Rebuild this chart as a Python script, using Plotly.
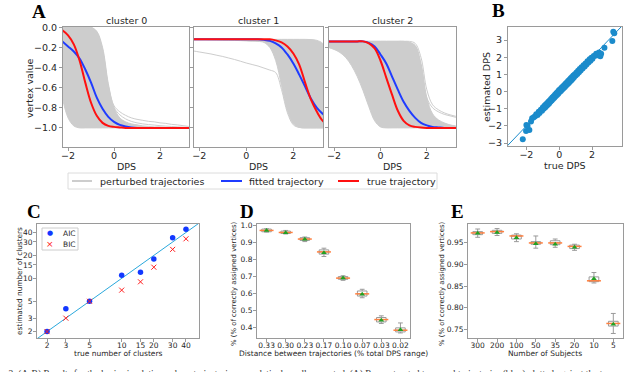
import plotly.graph_objects as go

W, H = 640, 372

# ---- panel A: trajectories read on a common DPS grid ----
dps_grid = [-2.25, -2.0, -1.75, -1.5, -1.25, -1.0, -0.75, -0.5, -0.25, 0.0, 0.25, 0.5,
            0.75, 1.0, 1.25, 1.5, 1.75, 2.0, 2.25, 2.5, 2.75, 3.0, 3.25, 3.5]

c0_true = [-0.03, -0.08, -0.17, -0.33, -0.55, -0.75, -0.88, -0.95, -0.98, -0.99, -0.995, -1.0,
           -1.0, -1.0, -1.0, -1.0, -1.0, -1.0, -1.0, -1.0, -1.0, -1.0, -1.0, -1.0]
c0_fit = [-0.14, -0.19, -0.24, -0.31, -0.42, -0.55, -0.70, -0.81, -0.89, -0.94, -0.97, -0.985,
          -0.995, -1.0, -1.0, -1.0, -1.0, -1.0, -1.0, -1.0, -1.0, -1.0, -1.0, -1.0]
c0_lo = [-0.70, -0.90, -0.98, -1.0, -1.0, -1.0, -1.0, -1.0, -1.0, -1.0, -1.0, -1.0,
         -1.0, -1.0, -1.0, -1.0, -1.0, -1.0, -1.0, -1.0, -1.0, -1.0, -1.0, -1.0]
c0_up = [0.0, 0.0, 0.0, 0.0, 0.0, 0.0, -0.04, -0.2, -0.56, -0.8, -0.9, -0.94,
         -0.96, -0.97, -0.98, -0.985, -0.99, -0.99, -0.995, -0.995, -0.995, -1.0, -1.0, -1.0]
c0_tail_a = [0.0, 0.0, 0.0, 0.0, 0.0, 0.0, -0.05, -0.22, -0.58, -0.78, -0.84, -0.875,
             -0.9, -0.915, -0.925, -0.935, -0.94, -0.95, -0.955, -0.965, -0.97, -0.978, -0.985, -0.99]
c0_tail_b = [0.0, 0.0, 0.0, 0.0, 0.0, -0.01, -0.08, -0.3, -0.64, -0.8, -0.87, -0.91,
             -0.935, -0.95, -0.96, -0.967, -0.972, -0.978, -0.982, -0.986, -0.99, -0.993, -0.996, -0.998]

c1_true = [-0.12, -0.12, -0.12, -0.12, -0.12, -0.12, -0.12, -0.12, -0.12, -0.12, -0.12, -0.12,
           -0.12, -0.12, -0.13, -0.15, -0.19, -0.26, -0.37, -0.55, -0.72, -0.84, -0.93, -0.97]
c1_fit = [-0.12, -0.12, -0.12, -0.12, -0.12, -0.12, -0.12, -0.12, -0.12, -0.12, -0.12, -0.12,
          -0.125, -0.135, -0.16, -0.2, -0.27, -0.36, -0.47, -0.59, -0.71, -0.8, -0.86, -0.91]
c1_lo = [-0.125, -0.125, -0.125, -0.126, -0.127, -0.128, -0.129, -0.13, -0.132, -0.135, -0.138, -0.14,
         -0.15, -0.2, -0.33, -0.58, -0.83, -0.96, -0.995, -1.0, -1.0, -1.0, -1.0, -1.0]
c1_up = [-0.12, -0.12, -0.12, -0.12, -0.12, -0.12, -0.12, -0.12, -0.12, -0.12, -0.12, -0.12,
         -0.12, -0.12, -0.12, -0.12, -0.12, -0.12, -0.12, -0.12, -0.122, -0.13, -0.16, -0.25]
c1_out = [-0.235, -0.245, -0.255, -0.265, -0.278, -0.29, -0.305, -0.32, -0.337, -0.355, -0.37, -0.385,
          -0.405, -0.425, -0.45, -0.62, -0.85, -0.97, -0.995, -1.0, -1.0, -1.0, -1.0, -1.0]

c2_true = [-0.14, -0.14, -0.14, -0.14, -0.14, -0.14, -0.14, -0.16, -0.21, -0.33, -0.50, -0.67,
           -0.83, -0.93, -0.975, -0.99, -0.997, -1.0, -1.0, -1.0, -1.0, -1.0, -1.0, -1.0]
c2_fit = [-0.14, -0.14, -0.14, -0.14, -0.14, -0.14, -0.14, -0.155, -0.19, -0.27, -0.36, -0.49,
          -0.62, -0.74, -0.83, -0.9, -0.95, -0.975, -0.99, -0.995, -1.0, -1.0, -1.0, -1.0]
c2_lo = [-0.2, -0.22, -0.25, -0.3, -0.38, -0.49, -0.63, -0.79, -0.93, -0.99, -1.0, -1.0,
         -1.0, -1.0, -1.0, -1.0, -1.0, -1.0, -1.0, -1.0, -1.0, -1.0, -1.0, -1.0]
c2_up = [-0.14, -0.14, -0.14, -0.14, -0.14, -0.14, -0.14, -0.14, -0.14, -0.14, -0.14, -0.14,
         -0.14, -0.14, -0.15, -0.18, -0.36, -0.7, -0.86, -0.92, -0.95, -0.97, -0.98, -0.985]
c2_tail_a = [-0.14, -0.14, -0.14, -0.14, -0.14, -0.14, -0.14, -0.14, -0.14, -0.14, -0.14, -0.14,
             -0.14, -0.14, -0.15, -0.19, -0.38, -0.7, -0.8, -0.84, -0.865, -0.88, -0.895, -0.905]
c2_tail_b = [-0.14, -0.14, -0.14, -0.14, -0.14, -0.14, -0.14, -0.14, -0.14, -0.14, -0.14, -0.14,
             -0.14, -0.14, -0.14, -0.16, -0.3, -0.62, -0.77, -0.82, -0.85, -0.87, -0.885, -0.9]

# ---- panel B ----
b_true = [-2.22, -2.02, -1.82, -2.0, -1.93, -1.65, -1.72, -1.55, -1.47, -1.4,
          -1.32, -1.25, -1.2, -1.12, -1.05, -1.0, -0.95, -0.9, -0.86, -0.82,
          -0.78, -0.74, -0.7, -0.66, -0.62, -0.58, -0.54, -0.5, -0.46, -0.42,
          -0.38, -0.34, -0.3, -0.26, -0.22, -0.18, -0.14, -0.1, -0.06, -0.02,
          0.02, 0.06, 0.1, 0.14, 0.18, 0.22, 0.26, 0.3, 0.34, 0.38,
          0.42, 0.46, 0.5, 0.54, 0.58, 0.62, 0.66, 0.7, 0.74, 0.78,
          0.82, 0.86, 0.9, 0.95, 1.0, 1.05, 1.1, 1.15, 1.2, 1.25,
          1.3, 1.36, 1.42, 1.48, 1.55, 1.6, 1.66, 1.72, 1.78, 1.85,
          1.9, 1.96, 2.02, 2.1, 2.18, 2.25, 2.32, 2.42, 2.5, 2.55,
          2.75, 3.23, 3.29, 3.35]
b_est = [-2.78, -2.30, -2.24, -1.95, -2.0, -1.56, -1.74, -1.5, -1.44, -1.32,
         -1.36, -1.17, -1.25, -1.06, -1.12, -0.93, -1.0, -0.83, -0.93, -0.76,
         -0.84, -0.68, -0.77, -0.6, -0.69, -0.52, -0.6, -0.43, -0.52, -0.35,
         -0.44, -0.27, -0.36, -0.18, -0.27, -0.1, -0.2, -0.02, -0.12, 0.07,
         -0.03, 0.14, 0.04, 0.22, 0.12, 0.3, 0.2, 0.37, 0.27, 0.45,
         0.35, 0.53, 0.43, 0.61, 0.5, 0.69, 0.58, 0.77, 0.66, 0.85,
         0.74, 0.93, 0.83, 1.01, 0.93, 1.11, 1.03, 1.21, 1.12, 1.31,
         1.22, 1.42, 1.34, 1.53, 1.46, 1.64, 1.57, 1.76, 1.69, 1.88,
         1.8, 1.97, 1.91, 2.07, 2.08, 2.2, 2.12, 2.28, 2.05, 2.2,
         2.55, 2.94, 3.48, 3.4]
b_diag = [-4, 4]

# ---- panel C ----
c_true = [2, 3, 5, 10, 15, 20, 30, 40]
c_aic = [2, 4, 5, 11, 12, 18, 34, 44]
c_bic = [2, 3, 5, 7, 9, 14, 24, 33]
c_diag = [1, 60]
c_ticks = [2, 3, 5, 10, 15, 20, 30, 40]

# ---- panel D ----
d_labels = ["0.33", "0.30", "0.23", "0.17", "0.10", "0.07", "0.03", "0.02"]
d_q1 = [0.964, 0.954, 0.913, 0.832, 0.683, 0.584, 0.431, 0.372]
d_med = [0.972, 0.960, 0.921, 0.845, 0.690, 0.597, 0.445, 0.382]
d_q3 = [0.980, 0.968, 0.929, 0.857, 0.699, 0.614, 0.457, 0.396]
d_lo = [0.962, 0.951, 0.906, 0.818, 0.677, 0.574, 0.422, 0.366]
d_hi = [0.982, 0.972, 0.933, 0.867, 0.704, 0.624, 0.467, 0.425]
d_mean = [0.971, 0.959, 0.920, 0.840, 0.690, 0.595, 0.441, 0.385]

# ---- panel E ----
e_labels = ["300", "200", "100", "50", "35", "20", "10", "5"]
e_q1 = [0.968, 0.971, 0.958, 0.946, 0.945, 0.936, 0.860, 0.758]
e_med = [0.972, 0.975, 0.965, 0.949, 0.949, 0.941, 0.862, 0.764]
e_q3 = [0.975, 0.978, 0.967, 0.952, 0.954, 0.944, 0.871, 0.769]
e_lo = [0.962, 0.966, 0.952, 0.937, 0.939, 0.932, 0.857, 0.741]
e_hi = [0.981, 0.982, 0.970, 0.965, 0.958, 0.946, 0.881, 0.787]
e_mean = [0.971, 0.973, 0.961, 0.947, 0.946, 0.939, 0.867, 0.762]

GREY = "#cdcdcd"
BLUE = "#1f3cff"
RED = "#ff1010"
DOTS = "#1b8bcb"
AIC_C = "#1238ff"
BIC_C = "#ff2020"
FRAME = "#9a9a9a"
TXT = "#262626"
BOXC = "#9a9a9a"
SANS = "DejaVu Sans"
SERIF = "Liberation Serif"


def xd(a, b):
    return [a / W, b / W]


def yd(top, bottom):
    return [1 - bottom / H, 1 - top / H]


fig = go.Figure()

clusters = [
    (c0_lo, c0_up, [c0_tail_a, c0_tail_b], c0_fit, c0_true),
    (c1_lo, c1_up, [c1_out], c1_fit, c1_true),
    (c2_lo, c2_up, [c2_tail_a, c2_tail_b], c2_fit, c2_true),
]
for i, (lo, up, extra, fit, true) in enumerate(clusters):
    sfx = "" if i == 0 else str(i + 1)
    xa, ya = "x" + sfx, "y" + sfx
    fig.add_trace(go.Scatter(x=dps_grid, y=lo, xaxis=xa, yaxis=ya, mode="lines",
                             line=dict(color=GREY, width=1, shape="spline"),
                             showlegend=False, hoverinfo="skip"))
    fig.add_trace(go.Scatter(x=dps_grid, y=up, xaxis=xa, yaxis=ya, mode="lines",
                             line=dict(color=GREY, width=1, shape="spline"),
                             fill="tonexty", fillcolor=GREY,
                             showlegend=False, hoverinfo="skip"))
    for t in extra:
        fig.add_trace(go.Scatter(x=dps_grid, y=t, xaxis=xa, yaxis=ya, mode="lines",
                                 line=dict(color=GREY, width=1, shape="spline"),
                                 showlegend=False))
    fig.add_trace(go.Scatter(x=dps_grid, y=fit, xaxis=xa, yaxis=ya, mode="lines",
                             line=dict(color=BLUE, width=2, shape="spline"), showlegend=False))
    fig.add_trace(go.Scatter(x=dps_grid, y=true, xaxis=xa, yaxis=ya, mode="lines",
                             line=dict(color=RED, width=2, shape="spline"), showlegend=False))

# B
fig.add_trace(go.Scatter(x=b_diag, y=b_diag, xaxis="x4", yaxis="y4", mode="lines",
                         line=dict(color=DOTS, width=1), showlegend=False))
fig.add_trace(go.Scatter(x=b_true, y=b_est, xaxis="x4", yaxis="y4", mode="markers",
                         marker=dict(color=DOTS, size=6), showlegend=False))

# C
fig.add_trace(go.Scatter(x=c_diag, y=c_diag, xaxis="x5", yaxis="y5", mode="lines",
                         line=dict(color="#2aa8dc", width=1), showlegend=False))
fig.add_trace(go.Scatter(x=c_true, y=c_aic, xaxis="x5", yaxis="y5", mode="markers",
                         marker=dict(color=AIC_C, size=5.5), showlegend=False))
fig.add_trace(go.Scatter(x=c_true, y=c_bic, xaxis="x5", yaxis="y5", mode="markers",
                         marker=dict(symbol="x-thin", size=5, line=dict(color=BIC_C, width=1)),
                         showlegend=False))

# D and E boxes
for sfx, labels, q1, med, q3, lo, hi, mean in [
    ("6", d_labels, d_q1, d_med, d_q3, d_lo, d_hi, d_mean),
    ("7", e_labels, e_q1, e_med, e_q3, e_lo, e_hi, e_mean),
]:
    fig.add_trace(go.Box(x=labels, q1=q1, median=med, q3=q3, lowerfence=lo, upperfence=hi,
                         xaxis="x" + sfx, yaxis="y" + sfx, width=0.5, whiskerwidth=0.5,
                         line=dict(color=BOXC, width=1), fillcolor="rgba(0,0,0,0)",
                         boxpoints=False, showlegend=False))
    fig.add_trace(go.Scatter(x=labels, y=med, xaxis="x" + sfx, yaxis="y" + sfx, mode="markers",
                             marker=dict(symbol="line-ew", size=10,
                                         line=dict(color="#ff8040", width=1.5)),
                             showlegend=False))
    fig.add_trace(go.Scatter(x=labels, y=mean, xaxis="x" + sfx, yaxis="y" + sfx, mode="markers",
                             marker=dict(symbol="triangle-up", size=5, color="#22a022"),
                             showlegend=False))


def axis(dom, anchor, size, **kw):
    d = dict(domain=dom, anchor=anchor, showline=True, mirror=True, linecolor=FRAME,
             linewidth=1, ticks="outside", ticklen=3, tickwidth=1, tickcolor=FRAME,
             showgrid=False, zeroline=False, automargin=False,
             tickfont=dict(family=SANS, size=size, color=TXT))
    d.update(kw)
    return d


a_x = dict(range=[-2.22, 3.26], tickvals=[-2, 0, 2], ticklabelstandoff=-3)
a_y = dict(range=[-1.19, 0.003], tickvals=[0, -0.2, -0.4, -0.6, -0.8, -1.0], tickformat=".1f")
top_a = yd(27, 147)

fig.update_layout(
    width=W, height=H, template="none", showlegend=False,
    margin=dict(l=0, r=0, t=0, b=0),
    paper_bgcolor="white", plot_bgcolor="white",
    font=dict(family=SANS, color=TXT),
    xaxis=axis(xd(63, 189), "y", 9.5, **a_x),
    yaxis=axis(top_a, "x", 9.5, **a_y),
    xaxis2=axis(xd(194, 323), "y2", 9.5, **a_x),
    yaxis2=axis(top_a, "x2", 9.5, showticklabels=False, **a_y),
    xaxis3=axis(xd(329, 456), "y3", 9.5, **a_x),
    yaxis3=axis(top_a, "x3", 9.5, showticklabels=False, **a_y),
    xaxis4=axis(xd(508, 622), "y4", 9.5, range=[-3.12, 3.82], tickvals=[-2, 0, 2],
                ticklabelstandoff=-3),
    yaxis4=axis(yd(27, 146), "x4", 9.5, range=[-3.17, 3.76], tickvals=[-3, -2, -1, 0, 1, 2, 3]),
    xaxis5=axis(xd(37, 199), "y5", 7.5, type="log", range=[0.207, 1.724],
                tickvals=c_ticks, ticktext=[str(v) for v in c_ticks], ticklabelstandoff=-3),
    yaxis5=axis(yd(224, 338), "x5", 7.5, type="log", range=[0.217, 1.713],
                tickvals=c_ticks, ticktext=[str(v) for v in c_ticks], ticklabelstandoff=-1),
    xaxis6=axis(xd(257, 410), "y6", 7.5, type="category", categoryarray=d_labels,
                range=[-0.5, 7.5], ticklabelstandoff=-3),
    yaxis6=axis(yd(224, 338), "x6", 7.5, range=[0.336, 1.01],
                tickvals=[0.4, 0.5, 0.6, 0.7, 0.8, 0.9, 1.0], tickformat=".1f",
                ticklabelstandoff=-1),
    xaxis7=axis(xd(468, 623), "y7", 7.5, type="category", categoryarray=e_labels,
                range=[-0.5, 7.5], ticklabelstandoff=-3),
    yaxis7=axis(yd(224, 338), "x7", 7.5, range=[0.7306, 0.9925],
                tickvals=[0.75, 0.8, 0.85, 0.9, 0.95], tickformat=".2f",
                ticklabelstandoff=-1),
)

# legend boxes (panel A below the plots, panel C inside the plot)
fig.add_shape(type="rect", xref="paper", yref="paper",
              x0=68 / W, x1=437 / W, y0=1 - 189 / H, y1=1 - 173 / H,
              line=dict(color="#dcdcdc", width=1), fillcolor="white")
for x0, x1, colour in [(72, 92, GREY), (221, 242, BLUE), (338, 359, RED)]:
    fig.add_shape(type="line", xref="paper", yref="paper",
                  x0=x0 / W, x1=x1 / W, y0=1 - 181 / H, y1=1 - 181 / H,
                  line=dict(color=colour, width=2))
fig.add_shape(type="rect", xref="paper", yref="paper",
              x0=42 / W, x1=78 / W, y0=1 - 250 / H, y1=1 - 228 / H,
              line=dict(color="#cccccc", width=1), fillcolor="white")

notes = [
    # text, x px, y px, size, angle, family, colour, anchor
    ("<b>A</b>", 39, 12, 19, 0, SERIF, "black", "center"),
    ("<b>B</b>", 498, 11, 19, 0, SERIF, "black", "center"),
    ("<b>C</b>", 34, 211, 19, 0, SERIF, "black", "center"),
    ("<b>D</b>", 247, 211, 19, 0, SERIF, "black", "center"),
    ("<b>E</b>", 457, 211, 19, 0, SERIF, "black", "center"),
    ("cluster 0", 126, 21, 9.5, 0, SANS, TXT, "center"),
    ("cluster 1", 258, 21, 9.5, 0, SANS, TXT, "center"),
    ("cluster 2", 392, 21, 9.5, 0, SANS, TXT, "center"),
    ("vertex value", 29, 88, 9.5, -90, SANS, TXT, "center"),
    ("DPS", 126, 166, 9.5, 0, SANS, TXT, "center"),
    ("DPS", 258, 166, 9.5, 0, SANS, TXT, "center"),
    ("DPS", 392, 166, 9.5, 0, SANS, TXT, "center"),
    ("perturbed trajectories", 98, 181, 9.5, 0, SANS, TXT, "left"),
    ("fitted trajectory", 247, 181, 9.5, 0, SANS, TXT, "left"),
    ("true trajectory", 365, 181, 9.5, 0, SANS, TXT, "left"),
    ("true DPS", 565, 165, 9.5, 0, SANS, TXT, "center"),
    ("estimated DPS", 486, 87, 9.5, -90, SANS, TXT, "center"),
    ("true number of clusters", 118, 353.5, 7.5, 0, SANS, TXT, "center"),
    ("estimated number of clusters", 19, 281, 7.3, -90, SANS, TXT, "center"),
    ("Distance between trajectories (% total DPS range)", 333, 353.5, 7.5, 0, SANS, TXT, "center"),
    ("% (% of correctly assigned vertices)", 234, 284, 6.9, -90, SANS, TXT, "center"),
    ("Number of Subjects", 545, 353.5, 7.5, 0, SANS, TXT, "center"),
    ("% (% of correctly assigned vertices)", 442, 284, 6.9, -90, SANS, TXT, "center"),
    ("●", 50, 233, 7, 0, SANS, AIC_C, "center"),
    ("AIC", 61, 233, 7.5, 0, SANS, TXT, "left"),
    ("×", 50, 244, 9, 0, SANS, BIC_C, "center"),
    ("BIC", 61, 244, 7.5, 0, SANS, TXT, "left"),
]
for text, x, y, size, angle, family, colour, anchor in notes:
    fig.add_annotation(text=text, x=x / W, y=1 - y / H, xref="paper", yref="paper",
                       xanchor=anchor, yanchor="middle", showarrow=False, textangle=angle,
                       font=dict(family=family, size=size, color=colour))

fig.add_annotation(
    text="e 2: (A-B) Results for the basic simulation, where trajectories are relatively well "
         "separated. (A) Reconstructed temporal trajectories (blue) plotted against the tr",
    x=0, y=1 - 367 / H, xref="paper", yref="paper", xanchor="left", yanchor="top",
    showarrow=False, font=dict(family=SERIF, size=9.5, color="#333333"))

fig.write_html("out.html", config={"displayModeBar": False},
               post_script="document.body.style.margin = '0';")
